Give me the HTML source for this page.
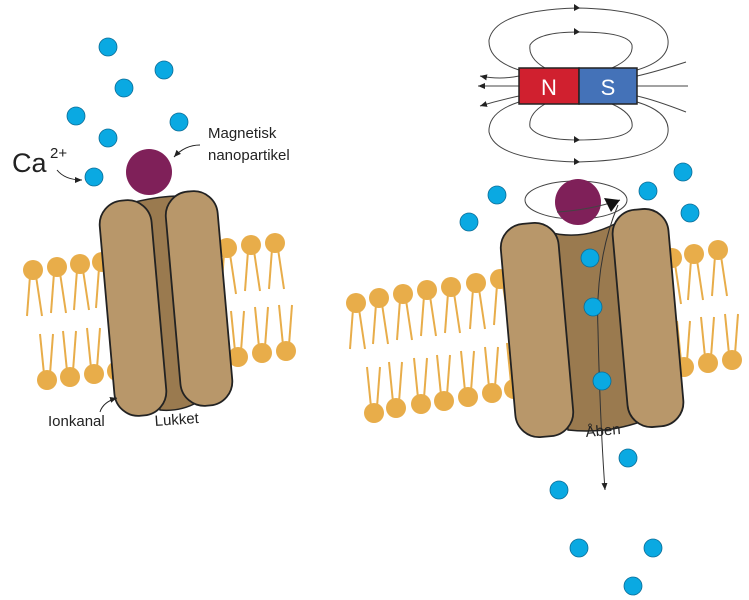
<!DOCTYPE html>
<html><head><meta charset="utf-8"><style>
html,body{margin:0;padding:0;background:#fff;}
svg{display:block;}
text{font-family:"Liberation Sans",sans-serif;fill:#222;}
</style></head><body>
<svg width="749" height="600" viewBox="0 0 749 600" xmlns="http://www.w3.org/2000/svg">
<defs>
<g id="lt"><line x1="-3" y1="6" x2="-6" y2="46" stroke="#e8ad4a" stroke-width="2"/><line x1="3" y1="6" x2="9" y2="46" stroke="#e8ad4a" stroke-width="2"/><circle r="10" fill="#e8ad4a"/></g>
<g id="lb"><line x1="-3" y1="-6" x2="-7" y2="-46" stroke="#e8ad4a" stroke-width="2"/><line x1="3" y1="-6" x2="6" y2="-46" stroke="#e8ad4a" stroke-width="2"/><circle r="10" fill="#e8ad4a"/></g>
<g id="ion"><circle r="9" fill="#0aa9e2" stroke="#0b6c96" stroke-width="0.8"/></g>
<marker id="ah" markerWidth="8" markerHeight="8" refX="7" refY="4" orient="auto"><path d="M0,1 L7,4 L0,7 z" fill="#222"/></marker>
</defs>

<!-- LEFT lipids -->
<use href="#lt" x="33" y="270"/><use href="#lt" x="57" y="267"/><use href="#lt" x="80" y="264"/><use href="#lt" x="102" y="262"/>
<use href="#lt" x="227" y="248"/><use href="#lt" x="251" y="245"/><use href="#lt" x="275" y="243"/>
<use href="#lb" x="47" y="380"/><use href="#lb" x="70" y="377"/><use href="#lb" x="94" y="374"/><use href="#lb" x="117" y="371"/>
<use href="#lb" x="238" y="357"/><use href="#lb" x="262" y="353"/><use href="#lb" x="286" y="351"/>

<!-- LEFT channel -->
<path d="M135,202 Q160,196 180,196 L198,402 Q180,412 160,410 Z" fill="#9a7a4f" stroke="#222" stroke-width="1.5"/>
<rect x="107" y="200" width="52" height="216" rx="24" ry="24" transform="rotate(-5 133 308)" fill="#b8976a" stroke="#222" stroke-width="1.8"/>
<rect x="173" y="191" width="52" height="215" rx="24" ry="24" transform="rotate(-5 199 298)" fill="#b8976a" stroke="#222" stroke-width="1.8"/>

<circle cx="149" cy="172" r="23" fill="#7f2059"/>
<use href="#ion" x="108" y="47"/><use href="#ion" x="164" y="70"/><use href="#ion" x="124" y="88"/><use href="#ion" x="76" y="116"/><use href="#ion" x="179" y="122"/><use href="#ion" x="108" y="138"/><use href="#ion" x="94" y="177"/>

<text x="12" y="172" font-size="27">Ca</text><text x="50" y="158" font-size="15">2+</text>
<path d="M57,170 Q65,180 82,180" fill="none" stroke="#222" stroke-width="1" marker-end="url(#ah)"/>
<text x="208" y="138" font-size="15">Magnetisk</text>
<text x="208" y="160" font-size="15">nanopartikel</text>
<path d="M200,145 Q185,145 174,157" fill="none" stroke="#222" stroke-width="1" marker-end="url(#ah)"/>
<text x="48" y="426" font-size="15">Ionkanal</text>
<text x="155" y="426" font-size="15" transform="rotate(-4 155 426)">Lukket</text>
<path d="M100,412 Q103,402 117,398" fill="none" stroke="#222" stroke-width="1" marker-end="url(#ah)"/>

<!-- RIGHT magnet field -->
<g fill="none" stroke="#444" stroke-width="1">
<path d="M519,70 Q488,60 489,40 Q495,10 578,8 Q665,10 668,40 Q670,60 637,70"/>
<path d="M545,68 Q528,58 530,45 Q538,32 578,32 Q628,32 632,45 Q634,58 612,68"/>
<path d="M519,102 Q488,112 489,132 Q495,160 578,162 Q665,160 668,132 Q670,112 637,102"/>
<path d="M545,104 Q528,114 530,127 Q538,140 578,140 Q628,140 632,127 Q634,114 612,104"/>
<path d="M519,76 Q500,80 480,76" marker-end="url(#ah)"/>
<path d="M519,86 L478,86" marker-end="url(#ah)"/>
<path d="M519,96 Q500,100 480,106" marker-end="url(#ah)"/>
<path d="M637,76 Q655,72 686,62"/><path d="M637,86 L688,86"/><path d="M637,96 Q655,100 686,112"/>
</g>
<path d="M574,4 L580,8 L574,11 Z M574,28 L580,32 L574,35 Z M574,136 L580,140 L574,143 Z M574,158 L580,162 L574,165 Z" fill="#222"/>
<rect x="519" y="68" width="60" height="36" fill="#d0202f" stroke="#222" stroke-width="1.5"/>
<rect x="579" y="68" width="58" height="36" fill="#4472b8" stroke="#222" stroke-width="1.5"/>
<text x="549" y="95" font-size="22" text-anchor="middle" style="fill:#fff">N</text>
<text x="608" y="95" font-size="22" text-anchor="middle" style="fill:#fff">S</text>

<!-- RIGHT lipids -->
<use href="#lt" x="356" y="303"/><use href="#lt" x="379" y="298"/><use href="#lt" x="403" y="294"/><use href="#lt" x="427" y="290"/><use href="#lt" x="451" y="287"/><use href="#lt" x="476" y="283"/><use href="#lt" x="500" y="279"/>
<use href="#lt" x="672" y="258"/><use href="#lt" x="694" y="254"/><use href="#lt" x="718" y="250"/>
<use href="#lb" x="374" y="413"/><use href="#lb" x="396" y="408"/><use href="#lb" x="421" y="404"/><use href="#lb" x="444" y="401"/><use href="#lb" x="468" y="397"/><use href="#lb" x="492" y="393"/><use href="#lb" x="514" y="389"/>
<use href="#lb" x="684" y="367"/><use href="#lb" x="708" y="363"/><use href="#lb" x="732" y="360"/>

<!-- RIGHT channel -->
<path d="M548,232 Q585,242 622,220 L640,422 Q605,434 568,430 Z" fill="#9a7a4f" stroke="#222" stroke-width="1.5"/>
<rect x="508" y="223" width="58" height="214" rx="24" ry="24" transform="rotate(-5 537 330)" fill="#b8976a" stroke="#222" stroke-width="1.8"/>
<rect x="620" y="209" width="56" height="218" rx="24" ry="24" transform="rotate(-5 648 318)" fill="#b8976a" stroke="#222" stroke-width="1.8"/>
<path d="M618,205 Q595,260 598,330 Q600,420 605,490" fill="none" stroke="#333" stroke-width="1" marker-end="url(#ah)"/>

<ellipse cx="576" cy="200" rx="51" ry="19" fill="none" stroke="#444" stroke-width="1"/>
<circle cx="578" cy="202" r="23" fill="#7f2059"/>
<path d="M557,212 Q590,210 620,200" fill="none" stroke="#444" stroke-width="1"/>
<path d="M604,198 L620,200 L611,212 Z" fill="#111"/>

<use href="#ion" x="497" y="195"/><use href="#ion" x="469" y="222"/><use href="#ion" x="648" y="191"/><use href="#ion" x="683" y="172"/><use href="#ion" x="690" y="213"/>
<use href="#ion" x="590" y="258"/><use href="#ion" x="593" y="307"/><use href="#ion" x="602" y="381"/>
<use href="#ion" x="628" y="458"/><use href="#ion" x="559" y="490"/><use href="#ion" x="579" y="548"/><use href="#ion" x="653" y="548"/><use href="#ion" x="633" y="586"/>
<text x="586" y="437" font-size="15" transform="rotate(-5 586 437)">Åben</text>
</svg>
</body></html>
